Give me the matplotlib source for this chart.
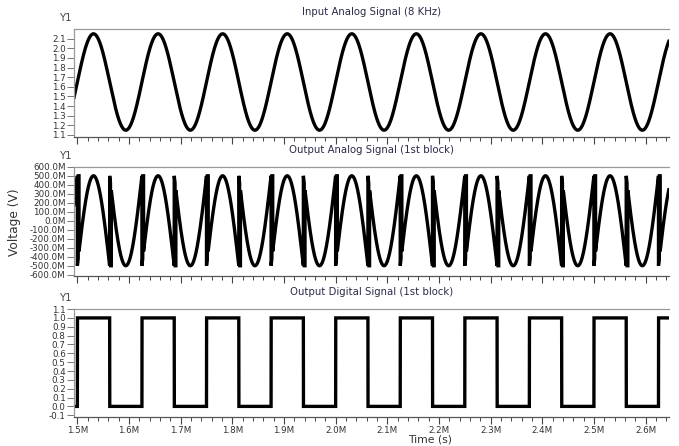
import numpy as np
import matplotlib
matplotlib.use("Agg")
import matplotlib.pyplot as plt
from matplotlib.ticker import FixedLocator, MultipleLocator, FuncFormatter

# time axis in ms (the tool labels it "M")
t_start, t_end = 1.4935, 2.645
x_ticks = [1.5, 1.6, 1.7, 1.8, 1.9, 2.0, 2.1, 2.2, 2.3, 2.4, 2.5, 2.6]

# input sine
in_freq_khz = 8.0
in_offset = 1.65
in_amp = 0.5
in_zero_cross = 1.5      # rising mid crossing, ms

# 1st block: residue gain / reference, comparator chatter after each edge (ms)
res_gain = 2.0
res_ref = 0.5
chatter = [0.0016, 0.0032]

y1_ticks = [1.1, 1.2, 1.3, 1.4, 1.5, 1.6, 1.7, 1.8, 1.9, 2.0, 2.1]
y2_ticks = [-0.6, -0.5, -0.4, -0.3, -0.2, -0.1, 0.0, 0.1, 0.2, 0.3, 0.4, 0.5, 0.6]
y3_ticks = [-0.1, 0.0, 0.1, 0.2, 0.3, 0.4, 0.5, 0.6, 0.7, 0.8, 0.9, 1.0, 1.1]

titles = ["Input Analog Signal (8 KHz)",
          "Output Analog Signal (1st block)",
          "Output Digital Signal (1st block)"]

t = np.linspace(t_start, t_end, 60000)
vin = in_offset + in_amp * np.sin(2 * np.pi * in_freq_khz * (t - in_zero_cross))
dig = (vin >= in_offset).astype(float)

# comparator seen by the residue path flickers right after each edge
d_res = dig.copy()
edges = np.nonzero(np.diff(dig))[0] + 1
for i in edges:
    te = t[i]
    win = (t >= te + chatter[0]) & (t < te + chatter[1])
    d_res[win] = 1 - dig[i]
res = res_gain * (vin - in_offset) - res_ref * (2 * d_res - 1)
res = np.clip(res, -res_ref, res_ref)

fig = plt.figure(figsize=(6.79, 4.46), dpi=100)
fig.patch.set_facecolor("white")

boxes = [[0.109, 0.693, 0.876, 0.242],
         [0.109, 0.381, 0.876, 0.245],
         [0.109, 0.065, 0.876, 0.242]]
series = [vin, res, dig]
ylims = [(1.08, 2.2), (-0.615, 0.6), (-0.12, 1.1)]
yticks = [y1_ticks, y2_ticks, y3_ticks]
fmts = [lambda v, p: f"{v:.1f}",
        lambda v, p: f"{v*1000:.1f}M",
        lambda v, p: f"{v:.1f}"]

txt_col = "#333333"
for k in range(3):
    ax = fig.add_axes(boxes[k])
    ax.plot(t, series[k], color="black", lw=2.4, solid_joinstyle="miter")
    ax.set_xlim(t_start, t_end)
    ax.set_ylim(*ylims[k])
    ax.yaxis.set_major_locator(FixedLocator(yticks[k]))
    ax.yaxis.set_major_formatter(FuncFormatter(fmts[k]))
    ax.xaxis.set_major_locator(FixedLocator(x_ticks))
    ax.xaxis.set_minor_locator(MultipleLocator(0.02))
    if k == 2:
        ax.xaxis.set_major_formatter(FuncFormatter(lambda v, p: f"{v:.1f}M"))
    else:
        ax.set_xticklabels([])
    ax.tick_params(axis="y", direction="out", length=5, width=0.7,
                   colors="#777777", labelcolor=txt_col, labelsize=6.3, pad=1)
    ax.tick_params(axis="x", which="major", direction="out", length=5,
                   width=0.8, colors="#444444", labelcolor=txt_col,
                   labelsize=6.3, pad=1.5)
    ax.tick_params(axis="x", which="minor", direction="out", length=3,
                   width=0.7, colors="#444444")
    ax.spines["right"].set_visible(False)
    ax.spines["top"].set_color("#999999")
    ax.spines["left"].set_color("#999999")
    ax.spines["bottom"].set_color("#555555")
    for s in ax.spines.values():
        s.set_linewidth(0.9)
    top_px = (1 - boxes[k][1] - boxes[k][3]) * 446
    fig.text(0.547, 1 - (top_px - 17) / 446, titles[k], ha="center",
             va="center", fontsize=7.3, color="#2a2a48")
    fig.text(0.097, 1 - (top_px - 11) / 446, "Y1", ha="center",
             va="center", fontsize=7.3, color="#444444")

fig.text(0.021, 0.502, "Voltage (V)", rotation=90, ha="center", va="center",
         fontsize=8.8, color=txt_col)
fig.text(0.633, 0.004, "Time (s)", ha="center", va="bottom",
         fontsize=7.8, color=txt_col)

fig.savefig("out.png", dpi=100)
